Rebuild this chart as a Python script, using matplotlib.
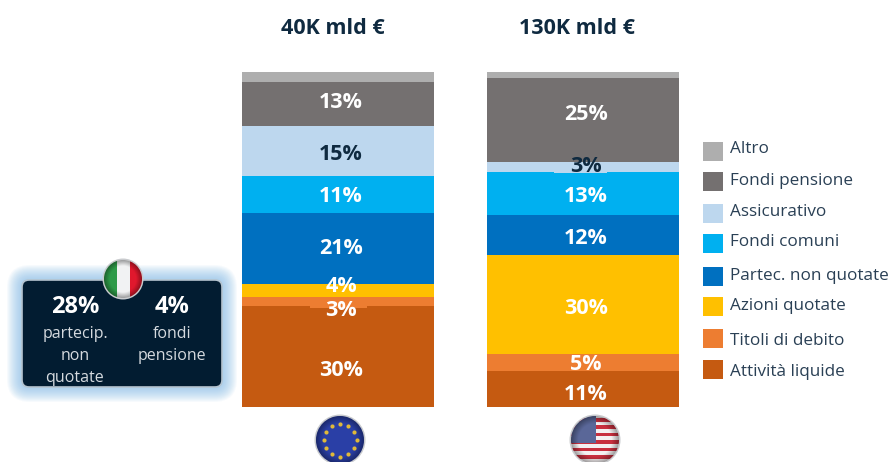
import matplotlib
matplotlib.use('Agg')
import matplotlib.pyplot as plt
from matplotlib.patches import Circle, FancyBboxPatch, Rectangle
import numpy as np

plt.rcParams['font.family'] = ['Open Sans', 'DejaVu Sans']

# bottom to top
categories = ['Attività liquide', 'Titoli di debito', 'Azioni quotate', 'Partec. non quotate',
              'Fondi comuni', 'Assicurativo', 'Fondi pensione', 'Altro']
colors = ['#C55A11', '#ED7D31', '#FFC000', '#0070C0', '#00B0F0', '#BDD7EE', '#747070', '#AEAEAE']
eu_values = [30.1, 2.7, 3.9, 21.2, 11.0, 14.9, 13.1, 3.0]
us_values = [10.7, 5.1, 29.6, 11.9, 12.8, 3.0, 25.1, 1.8]
eu_labels = ['30%', '3%', '4%', '21%', '11%', '15%', '13%', '']
us_labels = ['11%', '5%', '30%', '12%', '13%', '3%', '25%', '']
totals = ['40K mld €', '130K mld €']
navy = '#0F2A40'

# label centres in pixels, they do not sit mid segment in the original
eu_label_y = [370, 311, 287, 248, 196, 155, 102, 0]
us_label_y = [394, 364, 308, 239, 196, 166, 115, 0]

W, H = 890, 462
fig = plt.figure(figsize=(W / 100, H / 100), dpi=100)

# overlay in pixel coordinates for everything that is not a bar
bg = fig.add_axes([0, 0, 1, 1])
bg.set_xlim(0, W)
bg.set_ylim(H, 0)
bg.axis('off')

ax = fig.add_axes([242 / W, 1 - 407 / H, (679 - 242) / W, 335 / H])
ax.set_xlim(-0.392, 1.392)
ax.set_ylim(0, 100)
ax.axis('off')
ax.patch.set_alpha(0)

top = fig.add_axes([0, 0, 1, 1])
top.set_xlim(0, W)
top.set_ylim(H, 0)
top.axis('off')
top.patch.set_alpha(0)


def stack(x, xpx, values, labels, label_y):
    bottom = 0
    for val, col, lab, y in zip(values, colors, labels, label_y):
        ax.bar(x, val, 0.784, bottom=bottom, color=col, linewidth=0)
        if lab:
            tc = navy if col == '#BDD7EE' else 'white'
            top.text(xpx, y, lab, ha='center', va='center', color=tc, fontsize=15.5,
                     fontweight='bold', zorder=5)
        bottom += val


stack(0, 341, eu_values, eu_labels, eu_label_y)
stack(1, 586, us_values, us_labels, us_label_y)

# small patches behind the labels on thin segments
top.add_patch(Rectangle((310, 298), 57, 10, facecolor='#ED7D31', edgecolor='none'))
top.add_patch(Rectangle((554, 162), 53, 11, facecolor='#BDD7EE', edgecolor='none'))

top.text(333, 29, totals[0], ha='center', va='center', fontsize=15.5, fontweight='bold', color=navy)
top.text(577, 29, totals[1], ha='center', va='center', fontsize=15.5, fontweight='bold', color=navy)

# legend, top to bottom
box_y = [151.5, 181.5, 213.5, 243.5, 276.5, 306.5, 338.5, 369.5]
text_y = [149, 181, 212, 242, 276, 306, 341, 372]
for name, col, y, ty in zip(categories[::-1], colors[::-1], box_y, text_y):
    top.add_patch(Rectangle((703, y - 9.5), 20, 19, facecolor=col, edgecolor='none'))
    top.text(730, ty, name, ha='left', va='center', fontsize=12.3, color='#2A4055')

# glow + Italian box
for grow in np.arange(15, 0, -1):
    bg.add_patch(FancyBboxPatch((22 - grow, 280 - grow), 200 + 2 * grow, 107 + 2 * grow,
                                boxstyle='round,pad=0,rounding_size=%d' % (8 + grow),
                                facecolor='#7DB8E6', edgecolor='none', alpha=0.06))
bg.add_patch(FancyBboxPatch((22, 280), 200, 107, boxstyle='round,pad=0,rounding_size=7',
                            facecolor='#021C31', edgecolor='#B5C4D0', linewidth=1.2))
top.text(75, 307, '28%', ha='center', va='center', fontsize=17, fontweight='bold', color='white')
top.text(172, 307, '4%', ha='center', va='center', fontsize=17, fontweight='bold', color='white')
for txt, x, y in [('partecip.', 75, 334), ('non', 75, 356), ('quotate', 75, 378),
                  ('fondi', 172, 334), ('pensione', 172, 356)]:
    top.text(x, y, txt, ha='center', va='center', fontsize=11.5, color='#D5DADF')


def flag_disc(cx, cy, r):
    # shaded rim around a clipped disc
    top.add_patch(Circle((cx, cy), r + 1.5, facecolor='#C9CBCE', edgecolor='none'))
    clip = Circle((cx, cy), r, transform=top.transData, facecolor='none', edgecolor='none')
    top.add_patch(clip)
    return clip


def shade(cx, cy, r, clip):
    # glass look: dark rim, lighter centre
    yy, xx = np.mgrid[-1:1:80j, -1:1:80j]
    d = np.sqrt(xx ** 2 + yy ** 2)
    rgba = np.zeros((80, 80, 4))
    rgba[..., 3] = np.clip((d - 0.7) / 0.3, 0, 1) * 0.35
    im = top.imshow(rgba, extent=(cx - r, cx + r, cy + r, cy - r), aspect='auto', zorder=4)
    im.set_clip_path(clip)


# Italy
clip = flag_disc(123, 279, 19)
for x0, w, col in [(104, 13, '#2E9A48'), (117, 13, '#F1F2F3'), (130, 12, '#E0182D')]:
    top.add_patch(Rectangle((x0, 260), w, 38, facecolor=col, edgecolor='none', clip_path=clip))
shade(123, 279, 19, clip)

# EU
clip = flag_disc(340, 440, 24)
top.add_patch(Rectangle((316, 416), 48, 48, facecolor='#2A3FA6', edgecolor='none', clip_path=clip))
for ang in np.arange(0, 360, 30):
    top.plot(340 + 16.5 * np.cos(np.radians(ang)), 440 + 16.5 * np.sin(np.radians(ang)), 'o',
             ms=3, color='#E0B93A', mew=0, zorder=5)
shade(340, 440, 24, clip)

# USA
clip = flag_disc(595, 440, 24)
top.add_patch(Rectangle((571, 416), 48, 48, facecolor='#F4F0F1', edgecolor='none', clip_path=clip))
for y0 in np.arange(418, 464, 7.4):
    top.add_patch(Rectangle((571, y0), 48, 3.7, facecolor='#C8303F', edgecolor='none', clip_path=clip))
top.add_patch(Rectangle((571, 416), 25, 27, facecolor='#5A6798', edgecolor='none', clip_path=clip))
shade(595, 440, 24, clip)

top.set_xlim(0, W)
top.set_ylim(H, 0)
top.set_aspect('auto')
fig.savefig('out.png', dpi=100, facecolor='white')
